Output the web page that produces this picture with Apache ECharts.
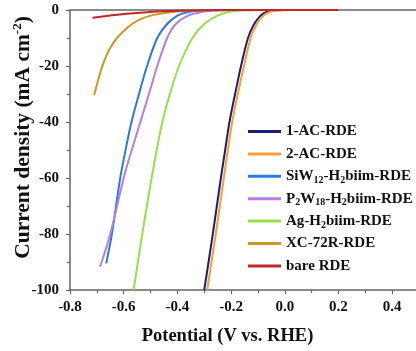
<!DOCTYPE html>
<html>
<head>
<meta charset="utf-8">
<script src="https://cdn.jsdelivr.net/npm/echarts@6/dist/echarts.min.js"></script>
<style>html,body{margin:0;padding:0;background:#fff}#c{width:416px;height:351px}</style>
</head>
<body>
<div id="c"></div>
<script>
// ---- Data ----
const seriesNames = ['1-AC-RDE', '2-AC-RDE', 'SiW12-H2biim-RDE', 'P2W18-H2biim-RDE', 'Ag-H2biim-RDE', 'XC-72R-RDE', 'bare RDE'];

const ac1X = [-0.300, -0.268, -0.238, -0.222, -0.206, -0.185, -0.163, -0.137, -0.114, -0.090, -0.070, -0.050, 0.000, 0.200];
const ac1Y = [-100, -80, -60, -50, -40, -30, -20, -10, -5, -2, -0.8, -0.2, 0, 0];

const ac2X = [-0.289, -0.257, -0.227, -0.212, -0.196, -0.175, -0.152, -0.127, -0.104, -0.080, -0.058, -0.035, 0.020, 0.200];
const ac2Y = [-100, -80, -60, -50, -40, -30, -20, -10, -5, -2, -0.8, -0.2, 0, 0];

const siwX = [-0.665, -0.644, -0.613, -0.593, -0.571, -0.543, -0.513, -0.475, -0.438, -0.400, -0.360, -0.310, -0.200, 0.200];
const siwY = [-90.5, -80, -60, -50, -40, -30, -20, -10, -5, -2, -0.7, -0.2, 0, 0];

const p2wX = [-0.688, -0.650, -0.600, -0.570, -0.538, -0.506, -0.475, -0.438, -0.406, -0.360, -0.310, -0.260, -0.150, 0.200];
const p2wY = [-91.7, -80, -60, -50, -40, -30, -20, -10, -5, -2, -0.7, -0.2, 0, 0];

const agX = [-0.563, -0.531, -0.496, -0.477, -0.456, -0.428, -0.394, -0.344, -0.300, -0.250, -0.210, -0.160, -0.050, 0.200];
const agY = [-100, -80, -60, -50, -40, -30, -20, -10, -5, -2, -0.7, -0.2, 0, 0];

const xcX = [-0.710, -0.695, -0.681, -0.665, -0.650, -0.625, -0.597, -0.569, -0.535, -0.500, -0.440, -0.380, -0.310, -0.200, 0.200];
const xcY = [-30.4, -25, -20.5, -16.5, -13.5, -10, -7.2, -5, -3.2, -2, -1, -0.4, -0.1, 0, 0];

const bareX = [-0.716, -0.650, -0.600, -0.500, -0.400, -0.300, -0.200, 0.200];
const bareY = [-2.8, -2.0, -1.4, -0.7, -0.3, -0.1, 0, 0];

const xTicks = ['-0.8', '-0.6', '-0.4', '-0.2', '0.0', '0.2', '0.4'];
const yTicks = ['-100', '-80', '-60', '-40', '-20', '0'];

const colors = ['#1c1c80', '#f7a030', '#2a7ae0', '#b47ee6', '#98e048', '#cc9a22', '#c0262a'];

// ---- Build ----
const xs = [ac1X, ac2X, siwX, p2wX, agX, xcX, bareX];
const ys = [ac1Y, ac2Y, siwY, p2wY, agY, xcY, bareY];
const zip = (a, b) => a.map((v, i) => [v, b[i]]);

const FONT = '"Liberation Serif", "Times New Roman", serif';
const AX = '#666';

const legendRich = {
  n: { fontFamily: FONT, fontWeight: 'bold', fontSize: 15, lineHeight: 19, color: '#111' },
  s: { fontFamily: FONT, fontWeight: 'bold', fontSize: 10, lineHeight: 10, padding: [8, 0, 0, 0], color: '#111' }
};
function legendFmt(name) {
  if (name === 'SiW12-H2biim-RDE') return '{n|SiW}{s|12}{n|-H}{s|2}{n|biim-RDE}';
  if (name === 'P2W18-H2biim-RDE') return '{n|P}{s|2}{n|W}{s|18}{n|-H}{s|2}{n|biim-RDE}';
  if (name === 'Ag-H2biim-RDE') return '{n|Ag-H}{s|2}{n|biim-RDE}';
  return '{n|' + name + '}';
}

const chart = echarts.init(document.getElementById('c'), null, { renderer: 'canvas' });
chart.setOption({
  animation: false,
  backgroundColor: '#fff',
  grid: { left: 70, top: 10, width: 349, bottom: 61, containLabel: false, outerBoundsMode: 'none' },
  legend: {
    orient: 'vertical',
    left: 243,
    top: 117,
    itemWidth: 33,
    itemHeight: 3,
    itemGap: 3.4,
    icon: 'rect',
    data: seriesNames,
    formatter: legendFmt,
    textStyle: { fontFamily: FONT, fontWeight: 'bold', fontSize: 15, lineHeight: 19, color: '#111', rich: legendRich }
  },
  xAxis: [{
    type: 'value', min: -0.8, max: 0.5, interval: 0.2,
    name: 'Potential (V vs. RHE)', nameLocation: 'middle', nameGap: 37, nameMoveOverlap: false,
    nameTextStyle: { fontFamily: FONT, fontWeight: 'bold', fontSize: 18.5, color: '#111', padding: [0, 34, 0, 0] },
    axisLine: { show: true, onZero: false, lineStyle: { color: AX, width: 1.5 } },
    axisTick: { show: true, inside: false, length: 4, lineStyle: { color: AX, width: 1.2 } },
    minorTick: { show: true, splitNumber: 2, length: 3, lineStyle: { color: AX, width: 1.2 } },
    splitLine: { show: false },
    axisLabel: {
      margin: 10, showMaxLabel: false,
      fontFamily: FONT, fontWeight: 'bold', fontSize: 15, color: '#111',
      formatter: v => { const s = v.toFixed(1); return xTicks.indexOf(s) >= 0 ? s : ''; }
    }
  }, {
    type: 'value', min: -0.8, max: 0.5, position: 'top',
    axisLine: { show: true, onZero: false, lineStyle: { color: AX, width: 1.5 } },
    axisTick: { show: false }, axisLabel: { show: false }, splitLine: { show: false }
  }],
  yAxis: {
    type: 'value', min: -100, max: 0, interval: 20,
    name: 'Current density (mA cm{sup|-2})', nameLocation: 'middle', nameGap: 36, nameRotate: 90, nameMoveOverlap: false,
    nameTextStyle: {
      fontFamily: FONT, fontWeight: 'bold', fontSize: 21.5, color: '#111', padding: [0, 0, 0, 25],
      rich: { sup: { fontFamily: FONT, fontWeight: 'bold', fontSize: 13, lineHeight: 13, padding: [0, 0, 10, 0], color: '#111' } }
    },
    axisLine: { show: true, onZero: false, lineStyle: { color: AX, width: 1.5 } },
    axisTick: { show: true, inside: false, length: 4, lineStyle: { color: AX, width: 1.2 } },
    minorTick: { show: true, splitNumber: 2, length: 3, lineStyle: { color: AX, width: 1.2 } },
    splitLine: { show: false },
    axisLabel: {
      margin: 11, fontFamily: FONT, fontWeight: 'bold', fontSize: 15, color: '#111',
      formatter: v => { const s = String(Math.round(v)); return yTicks.indexOf(s) >= 0 ? s : ''; }
    }
  },
  series: seriesNames.map((name, i) => ({
    name: name,
    type: 'line',
    data: zip(xs[i], ys[i]),
    smooth: 0.3,
    showSymbol: false,
    symbol: 'none',
    clip: true,
    color: colors[i],
    lineStyle: { color: colors[i], width: 2 },
    z: 2 + i
  }))
});
</script>
</body>
</html>
